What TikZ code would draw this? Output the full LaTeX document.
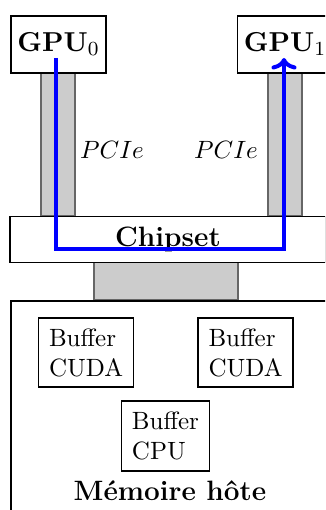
\documentclass[tikz,border=0pt]{standalone}
\usetikzlibrary{arrows.meta}
\newcommand{\biglabel}{\fontsize{11.2}{13.5}\selectfont\bfseries}
\begin{document}
\begin{tikzpicture}[x=0.4pt,y=-0.4pt,
  box/.style={draw, line width=0.75pt, fill=white, inner sep=0pt},
  bus/.style={draw=black!60, fill=black!20, line width=0.5pt, inner sep=0pt},
  buf/.style={draw, line width=0.75pt, fill=white, align=left, inner sep=4.2pt},
  xfer/.style={draw=blue, line width=1.6pt,
    -{Computer Modern Rightarrow[width=10pt,length=4.6pt]}}]
\useasboundingbox (0,0) rectangle (325,510);
\clip (0,0) rectangle (325,510);

% PCIe links and the chipset-to-memory bridge
\node[bus, minimum width=13.6pt, minimum height=57.2pt] (pcie0) at (58,144.5) {};
\node[bus, minimum width=13.6pt, minimum height=57.2pt] (pcie1) at (285,144.5) {};
\node[bus, minimum width=57.6pt, minimum height=15.2pt] (bridge) at (166,281) {};

% GPUs
\node[box, minimum width=38pt, minimum height=22.8pt, font=\biglabel] (gpu0) at (58.5,44.5) {$\mathbf{GPU}_0$};
\node[box, minimum width=38pt, minimum height=22.8pt, font=\biglabel] (gpu1) at (285,44.5) {$\mathbf{GPU}_1$};

% chipset
\node[box, minimum width=126.4pt, minimum height=18.4pt, font=\biglabel] (chipset) at (168,239.5) {Chipset};

% host memory
\node[box, anchor=north west, minimum width=128pt, minimum height=92pt] (mem) at (10,300) {};
\node[font=\biglabel] (memlabel) at (170,491) {Mémoire hôte};
\node[buf] (cuda0) at (86,352.5) {Buffer\\CUDA};
\node[buf] (cuda1) at (245.5,352.5) {Buffer\\CUDA};
\node[buf] (cpu) at (165.5,436) {Buffer\\CPU};

% link labels
\node (lab0) at (112,150) {$PCIe$};
\node (lab1) at (226,150) {$PCIe$};

% peer-to-peer transfer through the chipset
\coordinate (src) at (56,58);
\coordinate (dst) at (284,58);
\coordinate (turn) at (170,249.5);
\draw[xfer] (src) |- (turn) -| (dst);
\end{tikzpicture}
\end{document}
